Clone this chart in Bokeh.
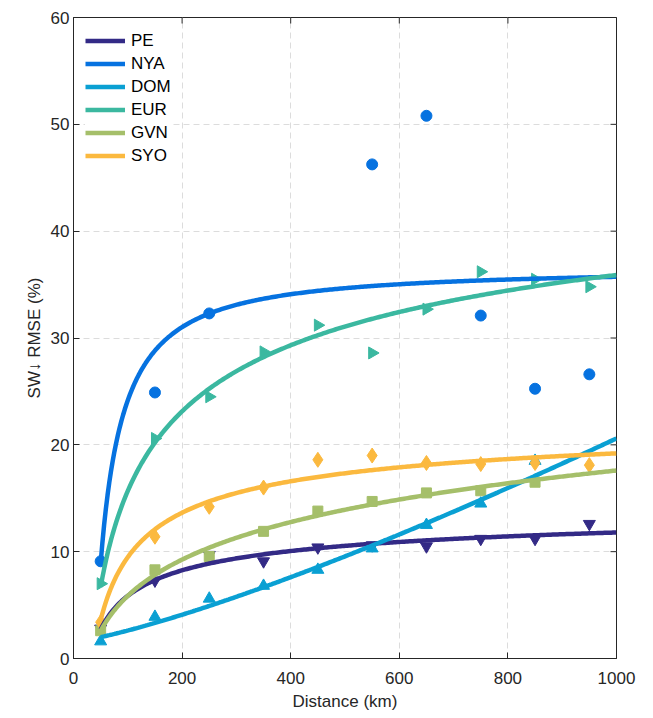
import numpy as np
from bokeh.plotting import figure
from bokeh.models import FixedTicker, Legend, LegendItem, Range1d
from bokeh.embed import file_html
from bokeh.resources import INLINE

# ---- data ----
stations = ["PE", "NYA", "DOM", "EUR", "GVN", "SYO"]
distance = [50, 150, 250, 350, 450, 550, 650, 750, 850, 950]
pe = [2.8, 7.3, 9.7, 9.1, 10.4, 10.6, 10.5, 11.2, 11.2, 12.6]
nya = [9.1, 24.9, 32.3, np.nan, np.nan, 46.25, 50.8, 32.1, 25.25, 26.6]
dom = [1.6, 3.9, 5.6, 6.8, 8.3, 10.3, 12.5, 14.5, 18.5, np.nan]
eur = [7.0, 20.6, 24.5, 28.7, 31.2, 28.6, 32.7, 36.2, 35.5, 34.8]
gvn = [2.6, 8.3, 9.55, 11.9, 13.8, 14.7, 15.5, 15.7, 16.5, np.nan]
syo = [3.4, 11.4, 14.2, 16.0, 18.6, 19.0, 18.3, 18.2, 18.3, 18.1]

# fitted curves: y = a + b * (d / 1000) ** p
fit_a = [15.72, 36.6, 1.55, 59.35, -90.3, 23.693]
fit_b = [-3.923, -0.87, 19.05, -23.45, 107.9, -4.493]
fit_p = [-0.4, -1.155, 1.25, -0.27, 0.05, -0.5]
fit_range = [50, 1000]

x_ticks = [0, 200, 400, 600, 800, 1000]
y_ticks = [0, 10, 20, 30, 40, 50, 60]

colors = ["#332a86", "#0672e0", "#0aa0d3", "#3bb8a0", "#a5bf6a", "#fbb93f"]
markers = ["inverted_triangle", "circle", "triangle", "triangle", "square", "diamond"]
msizes = [12, 11, 12, 12, 10, 15]
angles = [0, 0, 0, -np.pi / 2, 0, 0]
series = [pe, nya, dom, eur, gvn, syo]

FONT = "Liberation Sans"
INK = "#262626"

x0, x1 = x_ticks[0], x_ticks[-1]
y0, y1 = y_ticks[0], y_ticks[-1]

p = figure(width=645, height=714, output_backend="svg", toolbar_location=None,
           x_range=Range1d(x0, x1), y_range=Range1d(y0, y1),
           min_border_left=73, min_border_right=29, min_border_top=17, min_border_bottom=56)
p.background_fill_color = "white"
p.border_fill_color = "white"
p.outline_line_color = INK
p.outline_line_width = 1

for ax, ticks in ((p.xaxis[0], x_ticks), (p.yaxis[0], y_ticks)):
    ax.ticker = FixedTicker(ticks=ticks)
    ax.major_tick_in = 6
    ax.major_tick_out = 0
    ax.minor_tick_line_color = None
    ax.axis_line_color = INK
    ax.major_tick_line_color = INK
    ax.major_label_text_font = FONT
    ax.major_label_text_font_size = "17px"
    ax.major_label_text_color = INK
    ax.axis_label_text_font = FONT
    ax.axis_label_text_font_size = "17px"
    ax.axis_label_text_font_style = "normal"
    ax.axis_label_text_color = INK

p.xaxis.axis_label = "Distance (km)"
p.yaxis.axis_label = "SW\u2193 RMSE (%)"
p.xaxis.major_label_standoff = 13
p.xaxis.axis_label_standoff = 5
p.yaxis.major_label_standoff = 4
p.yaxis.axis_label_standoff = 4

p.xgrid.ticker = FixedTicker(ticks=x_ticks)
p.ygrid.ticker = FixedTicker(ticks=y_ticks)
for g in (p.xgrid, p.ygrid):
    g.grid_line_color = "#dcdcdc"
    g.grid_line_dash = "6 4"
    g.grid_line_width = 1

# mirrored inward ticks on the right and top edges of the box (clipped to the frame)
p.scatter([x1] * len(y_ticks), y_ticks, marker="dash", size=12, line_color=INK, line_width=1)
p.scatter(x_ticks, [y1] * len(x_ticks), marker="dash", size=12, angle=np.pi / 2,
          line_color=INK, line_width=1)

# markers first
for s, c, m, sz, ang in zip(series, colors, markers, msizes, angles):
    p.scatter(distance, s, marker=m, size=sz, angle=ang, fill_color=c, line_color=c)

# fit lines on top
xs = np.linspace(fit_range[0], fit_range[1], 300)
items = []
for name, c, a, b, pw in zip(stations, colors, fit_a, fit_b, fit_p):
    ys = a + b * (xs / 1000.0) ** pw
    r = p.line(xs, ys, line_color=c, line_width=4.5)
    items.append(LegendItem(label=name, renderers=[r]))

legend = Legend(items=items, location="top_left", margin=12, padding=18, spacing=0,
                glyph_width=40, glyph_height=23, label_standoff=6,
                label_text_font=FONT, label_text_font_size="17px", label_text_color="#000000",
                background_fill_color="white", background_fill_alpha=1.0,
                border_line_color=None)
p.add_layout(legend)

open("out.html", "w").write(file_html(p, INLINE))
